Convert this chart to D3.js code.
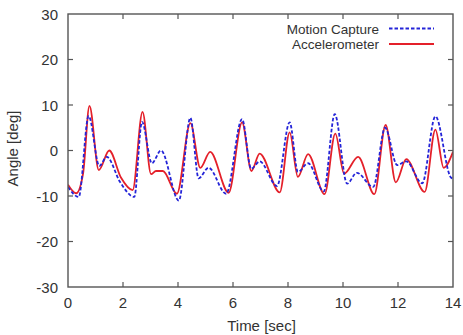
<!DOCTYPE html>
<html>
<head>
<meta charset="utf-8">
<script src="https://cdn.jsdelivr.net/npm/d3@7"></script>
<style>
  body { margin: 0; background: #fff; }
  text { font-family: "Liberation Sans", Arial, Helvetica, sans-serif; fill: #333; }
</style>
</head>
<body>
<div id="graphicContainer"></div>
<script>
// values
var accelTime = [0, 0.3, 0.55, 0.78, 1.12, 1.5, 1.93, 2.35, 2.71, 3.02, 3.2, 3.45, 3.96, 4.45, 4.81, 5.17, 5.84, 6.33, 6.67, 6.97, 7.7, 8.06, 8.36, 8.73, 9.33, 9.72, 10.04, 10.55, 11.14, 11.55, 11.92, 12.3, 12.97, 13.36, 13.66, 14];
var accelAngle = [-7.5, -9.4, -5, 9.8, -4.3, 0, -6, -8.7, 8.5, -5.2, -4.5, -4.5, -9.5, 6.0, -3.8, -0.3, -9.3, 6.2, -4.5, -0.7, -9.2, 4.0, -5.8, -0.8, -9.6, 3.7, -5.1, -1.4, -9.6, 5.6, -7.0, -1.9, -9.1, 4.6, -3.8, -0.3];

var mocapTime = [0, 0.39, 0.75, 1.14, 1.41, 1.9, 2.41, 2.69, 3.05, 3.38, 4.03, 4.45, 4.75, 5.11, 5.75, 6.33, 6.66, 6.97, 7.6, 8.06, 8.36, 8.73, 9.3, 9.7, 10.15, 10.5, 11.1, 11.53, 11.97, 12.3, 12.88, 13.36, 13.92, 14];
var mocapAngle = [-8, -10.2, 7.6, -3.4, -1.4, -7, -10.2, 6.3, -2.8, 0, -11, 7.2, -6.1, -3.8, -9.5, 6.9, -4.0, -2.4, -7.8, 6.2, -4.7, -2.8, -9.0, 8.0, -7.3, -4.9, -8.0, 5.0, -3.2, -2.4, -7.2, 7.5, -5.9, -6.2];

var xTicks = [0, 2, 4, 6, 8, 10, 12, 14];
var yTicks = [-30, -20, -10, 0, 10, 20, 30];
var seriesNames = ["Motion Capture", "Accelerometer"];

var width = 463, height = 335;
var margin = {top: 14, right: 10, bottom: 48, left: 68};
var w = width - margin.left - margin.right,
    h = height - margin.top - margin.bottom;

var x = d3.scaleLinear().domain([0, 14]).range([0, w]);
var y = d3.scaleLinear().domain([-30, 30]).range([h, 0]);

var svg = d3.select("#graphicContainer").append("svg")
  .attr("width", width)
  .attr("height", height);

var g = svg.append("g").attr("transform", "translate(" + margin.left + "," + margin.top + ")");

var axisColor = "#555";
var tickLen = 5;
var fontSize = "15px";

// inward ticks on every side
g.append("g").selectAll("line").data(xTicks.slice(1, -1)).enter().append("line")
  .attr("x1", d => x(d)).attr("x2", d => x(d))
  .attr("y1", h).attr("y2", h - tickLen)
  .attr("stroke", axisColor).attr("stroke-width", 1.2);
g.append("g").selectAll("line").data(xTicks.slice(1, -1)).enter().append("line")
  .attr("x1", d => x(d)).attr("x2", d => x(d))
  .attr("y1", 0).attr("y2", tickLen)
  .attr("stroke", axisColor).attr("stroke-width", 1.2);
g.append("g").selectAll("line").data(yTicks.slice(1, -1)).enter().append("line")
  .attr("x1", 0).attr("x2", tickLen)
  .attr("y1", d => y(d)).attr("y2", d => y(d))
  .attr("stroke", axisColor).attr("stroke-width", 1.2);
g.append("g").selectAll("line").data(yTicks.slice(1, -1)).enter().append("line")
  .attr("x1", w).attr("x2", w - tickLen)
  .attr("y1", d => y(d)).attr("y2", d => y(d))
  .attr("stroke", axisColor).attr("stroke-width", 1.2);

// tick labels
g.append("g").selectAll("text").data(xTicks).enter().append("text")
  .attr("x", d => x(d)).attr("y", h + 21)
  .attr("text-anchor", "middle")
  .style("font-size", fontSize)
  .text(d => d);
g.append("g").selectAll("text").data(yTicks).enter().append("text")
  .attr("x", -10).attr("y", d => y(d) + 5.5)
  .attr("text-anchor", "end")
  .style("font-size", fontSize)
  .text(d => d);

// axis titles
g.append("text")
  .attr("x", w / 2 + 1).attr("y", h + 44)
  .attr("text-anchor", "middle")
  .style("font-size", fontSize)
  .text("Time [sec]");
g.append("text")
  .attr("transform", "translate(" + (-50) + "," + (h / 2 - 2) + ") rotate(-90)")
  .attr("text-anchor", "middle")
  .style("font-size", fontSize)
  .text("Angle [deg]");

var line = d3.line()
  .x(d => x(d[0]))
  .y(d => y(d[1]))
  .curve(d3.curveMonotoneX);

var accel = accelTime.map((t, i) => [t, accelAngle[i]]);
var mocap = mocapTime.map((t, i) => [t, mocapAngle[i]]);

var red = "#e4202a", blue = "#2424d8";

g.append("clipPath").attr("id", "clip").append("rect")
  .attr("width", w).attr("height", h);

g.append("path")
  .datum(accel)
  .attr("clip-path", "url(#clip)")
  .attr("d", line)
  .attr("fill", "none")
  .attr("stroke", red)
  .attr("stroke-width", 1.8);

g.append("path")
  .datum(mocap)
  .attr("clip-path", "url(#clip)")
  .attr("d", line)
  .attr("fill", "none")
  .attr("stroke", blue)
  .attr("stroke-width", 1.8)
  .attr("stroke-dasharray", "3.5,2");

// frame
g.append("rect")
  .attr("width", w).attr("height", h)
  .attr("fill", "none")
  .attr("stroke", axisColor)
  .attr("stroke-width", 1.4);

// legend
var legend = g.append("g").attr("transform", "translate(" + (379 - margin.left) + "," + (28.5 - margin.top) + ")");
var legColors = [blue, red];
var legDash = ["3.5,2", null];
seriesNames.forEach((name, i) => {
  var row = legend.append("g").attr("transform", "translate(0," + (i * 15.5) + ")");
  row.append("text")
    .attr("x", 0).attr("y", 5)
    .attr("text-anchor", "end")
    .style("font-size", "13.5px")
    .text(name);
  row.append("line")
    .attr("x1", 10).attr("x2", 55)
    .attr("y1", 0).attr("y2", 0)
    .attr("stroke", legColors[i])
    .attr("stroke-width", 1.8)
    .attr("stroke-dasharray", legDash[i]);
});
</script>
</body>
</html>
